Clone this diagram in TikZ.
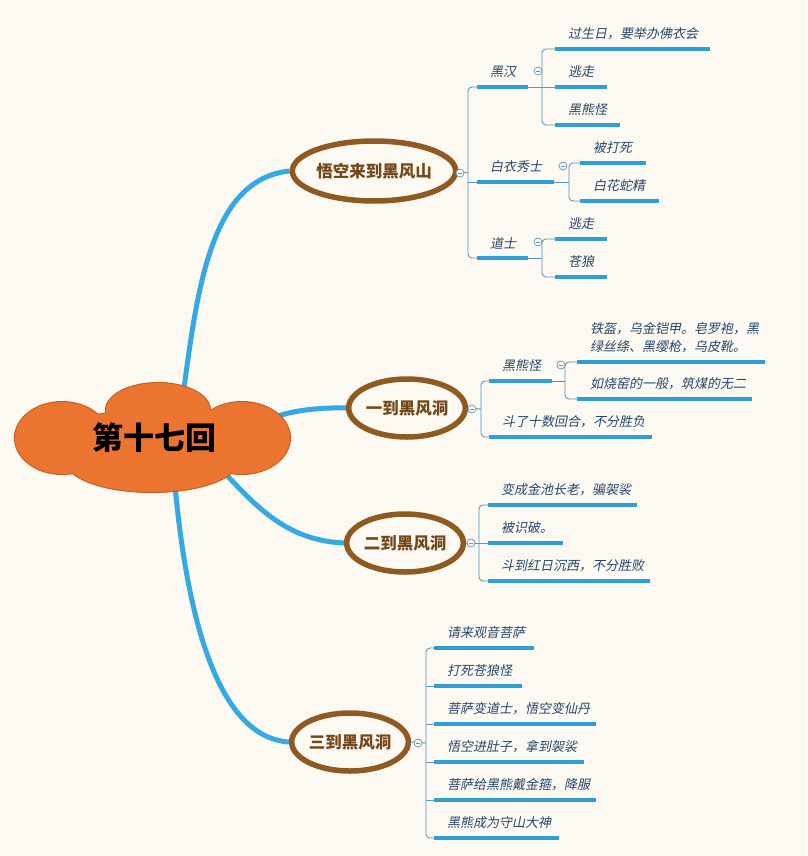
\documentclass[tikz,border=0pt]{standalone}
\usepackage{fontspec}
\setmainfont{Noto Sans CJK SC}
\newfontfamily\cjkit{Noto Sans CJK SC}[FakeSlant=0.2]
\usetikzlibrary{shapes.geometric,backgrounds,calc}
\definecolor{bgc}{HTML}{FBF9F1}
\definecolor{cloudfill}{HTML}{EA7430}
\definecolor{clouddraw}{HTML}{C45A1C}
\definecolor{brownline}{HTML}{8E5A22}
\definecolor{browntext}{HTML}{74481A}
\definecolor{mainblue}{HTML}{35A9E1}
\definecolor{barblue}{HTML}{2F9ED6}
\definecolor{connblue}{HTML}{5C95BD}
\definecolor{txtblue}{HTML}{27466B}
\newcommand\mmleaf[5]{%
  \node[barsty, minimum width={#3-#2}, anchor=west] (#1) at (#2,#4) {};
  \node[leaftxt, anchor=west] (#1t) at (#2+13,#4-15) {#5};
}
\begin{document}
\begin{tikzpicture}[x=1pt,y=-1pt,
  barsty/.style={fill=barblue, draw=none, minimum height=4pt, inner sep=0pt, rectangle},
  leaftxt/.style={text=txtblue, font=\cjkit\fontsize{13}{18}\selectfont, inner sep=0pt},
  ell/.style={ellipse, draw=brownline, line width=5.5pt, fill=bgc, text=browntext,
    font=\bfseries\fontsize{16.5}{18}\selectfont, inner sep=0pt},
  conn/.style={draw=connblue, line width=0.9pt, rounded corners=4pt},
  mainconn/.style={draw=mainblue, line width=5pt},
  circ/.style={circle, draw=connblue, line width=0.7pt, fill=bgc, minimum size=8pt, inner sep=0pt,
    path picture={\draw[connblue, line width=0.6pt] ([xshift=1.8pt]path picture bounding box.west) -- ([xshift=-1.8pt]path picture bounding box.east);}},
  puffs/.style={insert path={
    (62,438) ellipse [x radius=47, y radius=36]
    (158,410) ellipse [x radius=52, y radius=27]
    (242,438) ellipse [x radius=48, y radius=36]
    (152,462) ellipse [x radius=85, y radius=30]
    (152,440) ellipse [x radius=100, y radius=30]}}
]
\useasboundingbox (0,0) rectangle (807,856);

% root cloud
\draw[clouddraw, line width=2pt, puffs];
\fill[cloudfill, puffs];
\node[inner sep=0pt, font=\bfseries\fontsize{31}{31}\selectfont] (root) at (154,438) {第十七回};

% main ellipses
\node[ell, minimum width=156pt, minimum height=60pt] (e1) at (374,171) {悟空来到黑风山};
\node[ell, minimum width=114pt, minimum height=58pt] (e2) at (407,408) {一到黑风洞};
\node[ell, minimum width=114pt, minimum height=58pt] (e3) at (405,543) {二到黑风洞};
\node[ell, minimum width=113pt, minimum height=58pt] (e4) at (350,742) {三到黑风洞};

\begin{scope}[on background layer]
\fill[bgc] (0,0) rectangle (807,856);
\draw[mainconn] ($(root.center)+(23,0)$) .. controls (195,320) and (200,180) .. (e1.west);
\draw[mainconn] ($(root.center)+(60,10)$) .. controls (260,415) and (300,407) .. (e2.west);
\draw[mainconn] ($(root.center)+(48,10)$) .. controls (250,500) and (280,540) .. (e3.west);
\draw[mainconn] ($(root.center)+(18,10)$) .. controls (185,640) and (225,738) .. (e4.west);
\end{scope}

% ---- branch 1
\mmleaf{n1}{477}{528}{87}{黑汉}
\mmleaf{n2}{477}{554}{182}{白衣秀士}
\mmleaf{n3}{477}{528}{258}{道士}
\coordinate (s1) at (468,173);
\draw[conn] (e1.east) -- (s1);
\draw[conn] (n1.west) -| (s1) |- (n3.west);
\draw[conn] (n2.west) -- (n2.west -| s1);
\node[circ] (c1) at (460,173) {};

\mmleaf{n11}{555}{710}{49}{过生日，要举办佛衣会}
\mmleaf{n12}{555}{607}{87}{逃走}
\mmleaf{n13}{555}{620}{125}{黑熊怪}
\coordinate (s11) at (542,87);
\draw[conn] (n1.east) -- (n12.west);
\draw[conn] (n11.west) -| (s11) |- (n13.west);
\node[circ] (c11) at (538,71) {};

\mmleaf{n21}{580}{646}{163}{被打死}
\mmleaf{n22}{580}{659}{201}{白花蛇精}
\coordinate (s21) at (569,182);
\draw[conn] (n2.east) -- (s21);
\draw[conn] (n21.west) -| (s21) |- (n22.west);
\node[circ] (c21) at (563,166) {};

\mmleaf{n31}{555}{607}{239}{逃走}
\mmleaf{n32}{555}{607}{277}{苍狼}
\coordinate (s31) at (542,258);
\draw[conn] (n3.east) -- (s31);
\draw[conn] (n31.west) -| (s31) |- (n32.west);
\node[circ] (c31) at (538,242) {};

% ---- branch 2
\mmleaf{m1}{489}{552}{381}{黑熊怪}
\mmleaf{m2}{489}{652}{437}{斗了十数回合，不分胜负}
\coordinate (s2) at (481,409);
\draw[conn] (e2.east) -- (s2);
\draw[conn] (m1.west) -| (s2) |- (m2.west);
\node[circ] (c2) at (472,409) {};

\node[barsty, minimum width=188pt, anchor=west] (m11) at (577,362) {};
\node[leaftxt, anchor=west, align=left] (m11t) at (590,338) {铁盔，乌金铠甲。皂罗袍，黑\\绿丝绦、黑缨枪，乌皮靴。};
\mmleaf{m12}{577}{752}{399}{如烧窑的一般，筑煤的无二}
\coordinate (s2b) at (565,381);
\draw[conn] (m1.east) -- (s2b);
\draw[conn] (m11.west) -| (s2b) |- (m12.west);
\node[circ] (c2b) at (561,365) {};

% ---- branch 3
\mmleaf{k1}{488}{637}{505}{变成金池长老，骗袈裟}
\mmleaf{k2}{488}{563}{543}{被识破。}
\mmleaf{k3}{488}{650}{581}{斗到红日沉西，不分胜败}
\coordinate (s3) at (479,543);
\draw[conn] (e3.east) -- (k2.west);
\draw[conn] (k1.west) -| (s3) |- (k3.west);
\node[circ] (c3) at (471,543) {};

% ---- branch 4
\mmleaf{p1}{434}{534}{648}{请来观音菩萨}
\mmleaf{p2}{434}{522}{686}{打死苍狼怪}
\mmleaf{p3}{434}{596}{724}{菩萨变道士，悟空变仙丹}
\mmleaf{p4}{434}{584}{762}{悟空进肚子，拿到袈裟}
\mmleaf{p5}{434}{596}{800}{菩萨给黑熊戴金箍，降服}
\mmleaf{p6}{434}{559}{838}{黑熊成为守山大神}
\coordinate (s4) at (426,743);
\draw[conn] (e4.east) -- (s4);
\draw[conn] (p1.west) -| (s4) |- (p6.west);
\foreach \q in {p2,p3,p4,p5} {\draw[conn] (\q.west) -- (\q.west -| s4);}
\node[circ] (c4) at (418,743) {};
\end{tikzpicture}
\end{document}
